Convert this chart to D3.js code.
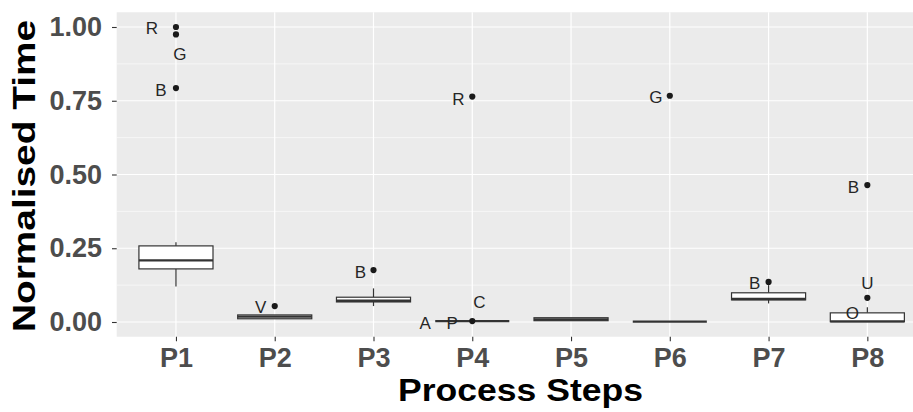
<!DOCTYPE html>
<html>
<head>
<meta charset="utf-8">
<script src="https://cdn.jsdelivr.net/npm/d3@7"></script>
<style>
  body { margin: 0; background: #fff; }
  svg text { font-family: "Liberation Sans", Arial, sans-serif; }
</style>
</head>
<body>
<div class="js-chart"></div>
<script>
// categories on the x axis
var steps = ['P1', 'P2', 'P3', 'P4', 'P5', 'P6', 'P7', 'P8'];

// box statistics per step (normalised time)
var lowerWhisker = [0.120, 0.011, 0.054, 0.003, 0.0045, 0.001, 0.063, 0.000];
var q1 = [0.180, 0.011, 0.068, 0.003, 0.0045, 0.001, 0.075, 0.001];
var median = [0.209, 0.018, 0.072, 0.003, 0.009, 0.001, 0.078, 0.002];
var q3 = [0.258, 0.024, 0.084, 0.003, 0.0145, 0.001, 0.099, 0.031];
var upperWhisker = [0.270, 0.024, 0.114, 0.003, 0.0145, 0.001, 0.125, 0.050];

// outlier points
var outlierStep = ['P1', 'P1', 'P1', 'P2', 'P3', 'P4', 'P4', 'P6', 'P7', 'P8', 'P8'];
var outlierValue = [1.000, 0.975, 0.793, 0.054, 0.176, 0.764, 0.003, 0.767, 0.136, 0.464, 0.082];

// text labels next to the points
var labelStep = ['P1', 'P1', 'P1', 'P2', 'P3', 'P4', 'P4', 'P4', 'P4', 'P6', 'P7', 'P8', 'P8', 'P8'];
var labelValue = [1.000, 0.975, 0.793, 0.054, 0.176, 0.764, 0.003, 0.003, 0.003, 0.767, 0.136, 0.464, 0.082, 0.003];
var labelText = ['R', 'G', 'B', 'V', 'B', 'R', 'A', 'P', 'C', 'G', 'B', 'B', 'U', 'O'];
// repel offsets in pixels (layout only)
var labelNudge = [[-24, 1], [4, 20], [-15, 2], [-14, 1], [-13, 2], [-14, 3], [-47, 2.5], [-20, 2.5], [7, -19], [-14, 2], [-14, 2], [-14, 2], [0, -14], [-15, -8]];

var yTicks = [0, 0.25, 0.5, 0.75, 1];
var yMinor = [0.125, 0.375, 0.625, 0.875];

var width = 913;
var height = 412;
var panel = { left: 116.7, right: 926.6, top: 12.25, bottom: 336.75 };
var ink = '#333333';

var svg = d3
  .select('.js-chart')
  .append('svg')
  .attr('width', width)
  .attr('height', height);

var x = d3.scalePoint().domain(steps).range([panel.left, panel.right]).padding(0.6);
var y = d3.scaleLinear().domain([-0.05, 1.05]).range([panel.bottom, panel.top]);
var boxW = x.step() * 0.75;

// panel background + grid
svg
  .append('rect')
  .attr('x', panel.left)
  .attr('y', panel.top)
  .attr('width', panel.right - panel.left)
  .attr('height', panel.bottom - panel.top)
  .attr('fill', '#EBEBEB');

svg
  .selectAll('.minor')
  .data(yMinor)
  .enter()
  .append('line')
  .attr('x1', panel.left)
  .attr('x2', panel.right)
  .attr('y1', (d) => y(d))
  .attr('y2', (d) => y(d))
  .attr('stroke', '#fff')
  .attr('stroke-width', 0.6);

svg
  .selectAll('.major-y')
  .data(yTicks)
  .enter()
  .append('line')
  .attr('x1', panel.left)
  .attr('x2', panel.right)
  .attr('y1', (d) => y(d))
  .attr('y2', (d) => y(d))
  .attr('stroke', '#fff')
  .attr('stroke-width', 1.2);

svg
  .selectAll('.major-x')
  .data(steps)
  .enter()
  .append('line')
  .attr('x1', (d) => x(d))
  .attr('x2', (d) => x(d))
  .attr('y1', panel.top)
  .attr('y2', panel.bottom)
  .attr('stroke', '#fff')
  .attr('stroke-width', 1.2);

// boxes
var boxes = svg
  .selectAll('.box')
  .data(steps)
  .enter()
  .append('g')
  .attr('class', 'box');

boxes
  .append('line')
  .attr('x1', (d) => x(d))
  .attr('x2', (d) => x(d))
  .attr('y1', (d, i) => y(upperWhisker[i]))
  .attr('y2', (d, i) => y(q3[i]))
  .attr('stroke', ink)
  .attr('stroke-width', 1.2);

boxes
  .append('line')
  .attr('x1', (d) => x(d))
  .attr('x2', (d) => x(d))
  .attr('y1', (d, i) => y(q1[i]))
  .attr('y2', (d, i) => y(lowerWhisker[i]))
  .attr('stroke', ink)
  .attr('stroke-width', 1.2);

boxes
  .append('rect')
  .attr('x', (d) => x(d) - boxW / 2)
  .attr('width', boxW)
  .attr('y', (d, i) => y(q3[i]))
  .attr('height', (d, i) => y(q1[i]) - y(q3[i]))
  .attr('fill', '#fff')
  .attr('stroke', ink)
  .attr('stroke-width', 1.2);

boxes
  .append('line')
  .attr('x1', (d) => x(d) - boxW / 2)
  .attr('x2', (d) => x(d) + boxW / 2)
  .attr('y1', (d, i) => y(median[i]))
  .attr('y2', (d, i) => y(median[i]))
  .attr('stroke', ink)
  .attr('stroke-width', 2.3);

// outliers
svg
  .selectAll('.outlier')
  .data(outlierValue)
  .enter()
  .append('circle')
  .attr('cx', (d, i) => x(outlierStep[i]))
  .attr('cy', (d) => y(d))
  .attr('r', 3.1)
  .attr('fill', '#1a1a1a');

// point labels
svg
  .selectAll('.point-label')
  .data(labelText)
  .enter()
  .append('text')
  .attr('x', (d, i) => x(labelStep[i]) + labelNudge[i][0])
  .attr('y', (d, i) => y(labelValue[i]) + labelNudge[i][1])
  .attr('text-anchor', 'middle')
  .attr('dominant-baseline', 'central')
  .style('font-size', '17px')
  .attr('fill', '#262626')
  .text((d) => d);

// axes
var yAxis = svg
  .append('g')
  .attr('transform', `translate(${panel.left},0)`)
  .call(d3.axisLeft(y).tickValues(yTicks).tickFormat(d3.format('.2f')).tickSize(4.7).tickPadding(10));

var xAxis = svg
  .append('g')
  .attr('transform', `translate(0,${panel.bottom})`)
  .call(d3.axisBottom(x).tickSize(4.5).tickPadding(7));

[yAxis, xAxis].forEach((ax) => {
  ax.select('.domain').remove();
  ax.selectAll('line').attr('stroke', ink).attr('stroke-width', 1.1);
  ax.selectAll('text')
    .attr('fill', '#4D4D4D')
    .style('font-size', '27px')
    .style('font-weight', 'bold');
});

// axis titles
svg
  .append('text')
  .attr('x', 520.5)
  .attr('y', 401)
  .attr('text-anchor', 'middle')
  .attr('textLength', 245)
  .attr('lengthAdjust', 'spacingAndGlyphs')
  .style('font-size', '32px')
  .style('font-weight', 'bold')
  .attr('fill', '#000')
  .text('Process Steps');

svg
  .append('text')
  .attr('transform', 'translate(35,176)rotate(-90)')
  .attr('text-anchor', 'middle')
  .attr('textLength', 312)
  .attr('lengthAdjust', 'spacingAndGlyphs')
  .style('font-size', '32px')
  .style('font-weight', 'bold')
  .attr('fill', '#000')
  .text('Normalised Time');
</script>
</body>
</html>
